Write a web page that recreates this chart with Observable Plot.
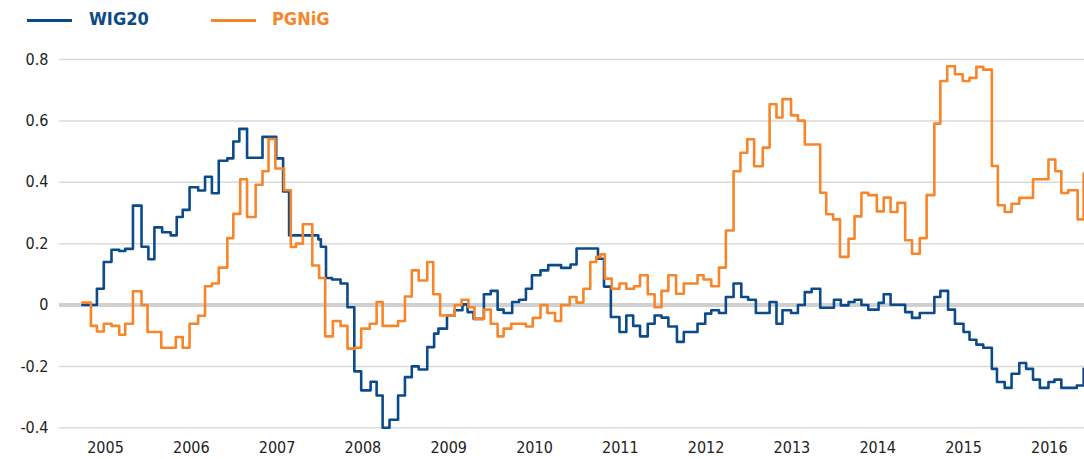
<!DOCTYPE html>
<html>
<head>
<meta charset="utf-8">
<script src="https://cdn.jsdelivr.net/npm/d3@7"></script>
<script src="https://cdn.jsdelivr.net/npm/@observablehq/plot@0.6"></script>
<style>
  html, body { margin: 0; padding: 0; background: #fff; }
  body { width: 1084px; height: 459px; overflow: hidden; font-family: "Liberation Sans Narrow", "DejaVu Sans Condensed", "Roboto", sans-serif; }
  #legend { position: relative; width: 1084px; height: 40px; }
  .sw { position: absolute; height: 3px; top: 19px; }
  .lt { position: absolute; top: 9px; font-weight: bold; font-size: 18px; line-height: 20px; }
  #chart svg { display: block; }
</style>
</head>
<body>
<div id="legend"></div>
<div id="chart"></div>
<script>
// Series names and colours
const seriesNames = ["WIG20", "PGNiG"];
const seriesColors = ["#0b4a8b", "#f7862a"];

// WIG20 rolling correlation (decimal year, value)
const wigDates = [2004.73, 2004.90, 2004.98, 2005.07, 2005.16, 2005.23, 2005.32, 2005.42, 2005.50, 2005.57,
  2005.66, 2005.76, 2005.83, 2005.90, 2005.98, 2006.08, 2006.16, 2006.24, 2006.32, 2006.42,
  2006.49, 2006.56, 2006.65, 2006.83, 2006.99, 2007.07, 2007.14, 2007.48, 2007.51, 2007.57,
  2007.64, 2007.74, 2007.82, 2007.90, 2007.98, 2008.09, 2008.16, 2008.23, 2008.31, 2008.41,
  2008.49, 2008.57, 2008.65, 2008.75, 2008.83, 2008.88, 2008.98, 2009.07, 2009.16, 2009.22,
  2009.29, 2009.41, 2009.49, 2009.57, 2009.64, 2009.74, 2009.82, 2009.90, 2009.97, 2010.07,
  2010.16, 2010.31, 2010.42, 2010.49, 2010.74, 2010.81, 2010.89, 2010.99, 2011.07, 2011.15,
  2011.23, 2011.32, 2011.40, 2011.48, 2011.56, 2011.66, 2011.74, 2011.90, 2011.99, 2012.06,
  2012.15, 2012.23, 2012.32, 2012.41, 2012.49, 2012.58, 2012.74, 2012.82, 2012.89, 2012.99,
  2013.07, 2013.15, 2013.23, 2013.33, 2013.49, 2013.57, 2013.66, 2013.73, 2013.81, 2013.89,
  2014.01, 2014.07, 2014.15, 2014.32, 2014.40, 2014.49, 2014.66, 2014.73, 2014.82, 2014.90,
  2015.00, 2015.07, 2015.15, 2015.23, 2015.33, 2015.39, 2015.48, 2015.56, 2015.65, 2015.73,
  2015.81, 2015.89, 2015.99, 2016.06, 2016.14, 2016.32, 2016.40, 2016.41];
const wigValues = [0.00, 0.053, 0.14, 0.18, 0.176, 0.183, 0.324, 0.19, 0.149, 0.253,
  0.237, 0.227, 0.287, 0.31, 0.384, 0.373, 0.418, 0.364, 0.47, 0.478,
  0.533, 0.574, 0.48, 0.548, 0.478, 0.37, 0.227, 0.214, 0.19, 0.088,
  0.083, 0.07, -0.007, -0.216, -0.278, -0.25, -0.295, -0.40, -0.374, -0.295,
  -0.235, -0.20, -0.21, -0.137, -0.093, -0.077, -0.034, -0.017, 0.002, -0.023,
  -0.045, 0.035, 0.046, -0.015, -0.026, 0.01, 0.017, 0.053, 0.097, 0.113,
  0.13, 0.121, 0.132, 0.184, 0.151, 0.06, -0.039, -0.088, -0.034, -0.068,
  -0.102, -0.061, -0.034, -0.041, -0.07, -0.12, -0.088, -0.061, -0.028, -0.017,
  -0.026, 0.026, 0.07, 0.026, 0.017, -0.026, 0.01, -0.061, -0.017, -0.026,
  0.0, 0.042, 0.053, -0.009, 0.017, -0.001, 0.01, 0.017, 0.0, -0.015,
  0.007, 0.035, 0.001, -0.023, -0.042, -0.026, 0.026, 0.046, -0.015, -0.061,
  -0.088, -0.113, -0.129, -0.139, -0.208, -0.251, -0.27, -0.224, -0.189, -0.208,
  -0.243, -0.27, -0.251, -0.243, -0.27, -0.262, -0.208, -0.208];

// PGNiG rolling correlation (decimal year, value)
const pgnDates = [2004.73, 2004.83, 2004.90, 2004.98, 2005.07, 2005.16, 2005.23, 2005.32, 2005.42, 2005.49,
  2005.65, 2005.82, 2005.90, 2005.98, 2006.08, 2006.16, 2006.24, 2006.32, 2006.42, 2006.49,
  2006.57, 2006.65, 2006.75, 2006.83, 2006.90, 2006.98, 2007.08, 2007.16, 2007.22, 2007.30,
  2007.41, 2007.49, 2007.56, 2007.65, 2007.74, 2007.82, 2007.91, 2007.98, 2008.08, 2008.16,
  2008.23, 2008.41, 2008.49, 2008.57, 2008.65, 2008.75, 2008.82, 2008.90, 2009.07, 2009.15,
  2009.23, 2009.30, 2009.41, 2009.49, 2009.57, 2009.64, 2009.73, 2009.90, 2009.98, 2010.07,
  2010.15, 2010.24, 2010.31, 2010.41, 2010.49, 2010.57, 2010.65, 2010.72, 2010.77, 2010.82,
  2010.90, 2010.99, 2011.07, 2011.16, 2011.23, 2011.32, 2011.40, 2011.48, 2011.56, 2011.65,
  2011.74, 2011.90, 2011.97, 2012.06, 2012.15, 2012.23, 2012.32, 2012.40, 2012.48, 2012.56,
  2012.66, 2012.74, 2012.82, 2012.89, 2012.99, 2013.07, 2013.15, 2013.33, 2013.40, 2013.48,
  2013.56, 2013.66, 2013.73, 2013.81, 2013.89, 2013.99, 2014.07, 2014.15, 2014.23, 2014.32,
  2014.40, 2014.49, 2014.57, 2014.66, 2014.73, 2014.81, 2014.90, 2014.99, 2015.07, 2015.15,
  2015.23, 2015.33, 2015.40, 2015.48, 2015.56, 2015.65, 2015.81, 2015.99, 2016.07, 2016.14,
  2016.22, 2016.33, 2016.40, 2016.41];
const pgnValues = [0.008, -0.068, -0.086, -0.061, -0.068, -0.097, -0.061, 0.045, 0.0, -0.088,
  -0.139, -0.104, -0.139, -0.061, -0.035, 0.061, 0.07, 0.122, 0.218, 0.297,
  0.41, 0.287, 0.392, 0.436, 0.541, 0.445, 0.374, 0.189, 0.20, 0.263,
  0.129, 0.088, -0.102, -0.052, -0.068, -0.142, -0.139, -0.077, -0.061, 0.01,
  -0.068, -0.052, 0.028, 0.113, 0.08, 0.14, 0.035, -0.034, 0.0, 0.017,
  -0.007, -0.045, -0.015, -0.061, -0.102, -0.077, -0.061, -0.07, -0.042, 0.0,
  -0.026, -0.052, 0.0, 0.026, 0.008, 0.053, 0.14, 0.157, 0.165, 0.086,
  0.053, 0.07, 0.053, 0.061, 0.097, 0.035, -0.007, 0.046, 0.097, 0.037,
  0.07, 0.097, 0.083, 0.061, 0.122, 0.243, 0.436, 0.496, 0.54, 0.452,
  0.513, 0.654, 0.611, 0.671, 0.618, 0.601, 0.523, 0.366, 0.296, 0.279,
  0.157, 0.216, 0.289, 0.366, 0.358, 0.305, 0.35, 0.303, 0.333, 0.211,
  0.167, 0.218, 0.358, 0.591, 0.73, 0.778, 0.752, 0.73, 0.74, 0.776,
  0.767, 0.453, 0.325, 0.303, 0.33, 0.349, 0.41, 0.474, 0.436, 0.365,
  0.374, 0.279, 0.428, 0.428];

// Axis ticks
const yTicks = [-0.4, -0.2, 0, 0.2, 0.4, 0.6, 0.8];
const xTicks = [2005, 2006, 2007, 2008, 2009, 2010, 2011, 2012, 2013, 2014, 2015, 2016];

const wig = wigDates.map((d, i) => ({x: d, y: wigValues[i]}));
const pgn = pgnDates.map((d, i) => ({x: d, y: pgnValues[i]}));

// Legend
const legend = document.getElementById("legend");
const legendPos = [{line: 27, text: 89}, {line: 211, text: 272}];
seriesNames.forEach((name, i) => {
  const sw = document.createElement("div");
  sw.className = "sw";
  sw.style.left = legendPos[i].line + "px";
  sw.style.width = "45px";
  sw.style.background = seriesColors[i];
  legend.appendChild(sw);
  const t = document.createElement("div");
  t.className = "lt";
  t.style.left = legendPos[i].text + "px";
  t.style.color = seriesColors[i];
  t.textContent = name;
  legend.appendChild(t);
});

const fmt = d => d === 0 ? "0" : d.toFixed(1);

const chart = Plot.plot({
  width: 1084,
  height: 419,
  marginLeft: 59,
  marginRight: 0,
  marginTop: 19,
  marginBottom: 31.7,
  style: {fontFamily: '"Liberation Sans Narrow", "DejaVu Sans Condensed", Roboto, sans-serif', fontSize: "16px", color: "#222", background: "#fff"},
  x: {domain: [2004.464, 2016.41]},
  y: {domain: [-0.4, 0.8]},
  marks: [
    Plot.ruleY(yTicks.filter(d => d !== 0), {stroke: "#d9d9d9", strokeWidth: 1.5}),
    Plot.ruleY([0], {stroke: "#d0d0d0", strokeWidth: 4}),
    Plot.axisY({ticks: yTicks, tickSize: 0, tickPadding: 11, tickFormat: fmt, label: null, fontSize: 16}),
    Plot.axisX({ticks: xTicks, tickSize: 0, tickPadding: 14, tickFormat: d => String(d), label: null, fontSize: 16}),
    Plot.line(wig, {x: "x", y: "y", curve: "step-after", stroke: seriesColors[0], strokeWidth: 2.6}),
    Plot.line(pgn, {x: "x", y: "y", curve: "step-after", stroke: seriesColors[1], strokeWidth: 2.6})
  ]
});
document.getElementById("chart").appendChild(chart);
</script>
</body>
</html>
